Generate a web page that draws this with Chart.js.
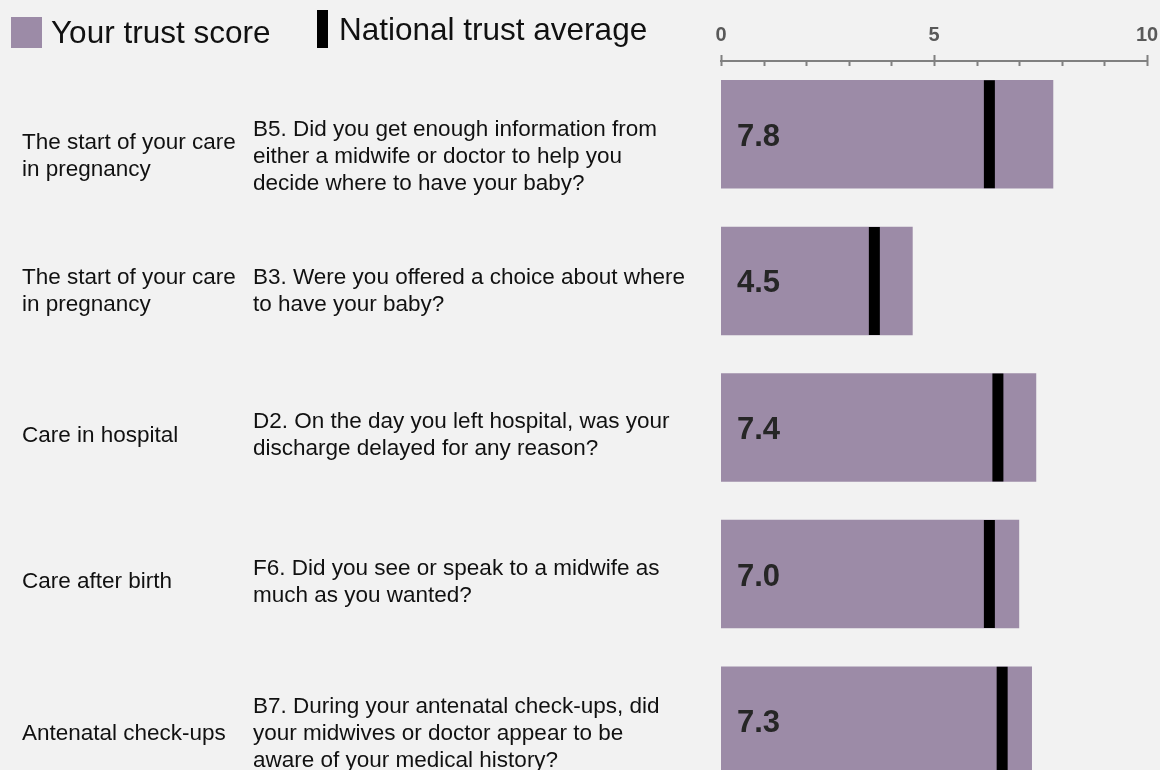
<!DOCTYPE html>
<html>
<head>
<meta charset="utf-8">
<script src="https://cdn.jsdelivr.net/npm/chart.js@4"></script>
<style>
    html, body { margin: 0; padding: 0; background: #f2f2f2; overflow: hidden; }
    #wrap { position: relative; width: 1160px; height: 794px; }
</style>
</head>
<body>
<div id="wrap"><canvas id="chart"></canvas></div>
<script>
// data
const sections = [
    ['The start of your care', 'in pregnancy'],
    ['The start of your care', 'in pregnancy'],
    ['Care in hospital'],
    ['Care after birth'],
    ['Antenatal check-ups']
];
const questions = [
    ['B5. Did you get enough information from', 'either a midwife or doctor to help you', 'decide where to have your baby?'],
    ['B3. Were you offered a choice about where', 'to have your baby?'],
    ['D2. On the day you left hospital, was your', 'discharge delayed for any reason?'],
    ['F6. Did you see or speak to a midwife as', 'much as you wanted?'],
    ['B7. During your antenatal check-ups, did', 'your midwives or doctor appear to be', 'aware of your medical history?']
];
const trustScores = [7.8, 4.5, 7.4, 7.0, 7.3];
const nationalAverage = [6.3, 3.6, 6.5, 6.3, 6.6];
const axisLabels = [0, 5, 10];

const barColor = '#9c8ba7';
const FONT = '"Liberation Sans", Arial, sans-serif';
// vertical shift of the text block against the bar centre, per row
const textShift = [22, 10, 8, 8, 13];

const decorPlugin = {
    id: 'decor',
    afterDatasetsDraw(chart) {
        const ctx = chart.ctx;
        const x = chart.scales.x;
        const y = chart.scales.y;
        ctx.save();

        // tick marks under the axis line
        const axisY = chart.chartArea.top;
        ctx.strokeStyle = '#808080';
        ctx.lineWidth = 2;
        for (let v = 0; v <= 10; v++) {
            const px = Math.round(x.getPixelForValue(v)) + 0.5;
            const major = axisLabels.includes(v);
            ctx.beginPath();
            ctx.moveTo(px, major ? axisY - 6 : axisY);
            ctx.lineTo(px, axisY + 5);
            ctx.stroke();
        }

        // value labels inside bars
        const bars = chart.getDatasetMeta(0).data;
        ctx.fillStyle = '#262626';
        ctx.font = 'bold 31px ' + FONT;
        ctx.textAlign = 'left';
        ctx.textBaseline = 'alphabetic';
        bars.forEach((bar, i) => {
            ctx.fillText(trustScores[i].toFixed(1), bar.base + 16, bar.y + 11.5);
        });

        // row texts
        ctx.fillStyle = '#111111';
        ctx.font = '22.5px ' + FONT;
        ctx.textBaseline = 'middle';
        const lh = 27;
        sections.forEach((sec, i) => {
            const cy = y.getPixelForValue(i) + textShift[i];
            const q = questions[i];
            const qTop = cy - (q.length - 1) * lh / 2;
            q.forEach((line, k) => ctx.fillText(line, 253, qTop + k * lh));
            const sTop = cy - (sec.length - 1) * lh / 2;
            sec.forEach((line, k) => ctx.fillText(line, 22, sTop + k * lh));
        });

        // legend
        ctx.fillStyle = barColor;
        ctx.fillRect(11, 17, 31, 31);
        ctx.fillStyle = '#000000';
        ctx.fillRect(317, 10, 11, 38);
        ctx.fillStyle = '#111111';
        ctx.font = '31.5px ' + FONT;
        ctx.textBaseline = 'alphabetic';
        ctx.fillText('Your trust score', 51, 43);
        ctx.fillText('National trust average', 339, 39.5);

        ctx.restore();
    }
};

new Chart(document.getElementById('chart'), {
    type: 'bar',
    data: {
        labels: sections.map(s => s.join(' ')),
        datasets: [
            {
                label: 'Your trust score',
                data: trustScores,
                backgroundColor: barColor,
                barPercentage: 0.74,
                categoryPercentage: 1,
                order: 2
            },
            {
                type: 'line',
                label: 'National trust average',
                indexAxis: 'y',
                data: nationalAverage,
                showLine: false,
                pointStyle: 'line',
                pointRotation: 90,
                pointRadius: 54,
                pointHoverRadius: 54,
                pointBorderWidth: 11,
                pointHoverBorderWidth: 11,
                pointBorderColor: '#000000',
                pointBackgroundColor: '#000000',
                order: 1
            }
        ]
    },
    options: {
        indexAxis: 'y',
        responsive: true,
        maintainAspectRatio: false,
        animation: false,
        events: [],
        layout: {
            autoPadding: false,
            padding: { left: 721, right: 13, top: 0, bottom: 0 }
        },
        plugins: {
            legend: { display: false },
            tooltip: { enabled: false }
        },
        scales: {
            x: {
                position: 'top',
                min: 0,
                max: 10,
                afterFit: (scale) => {
                    scale.height = 61;
                    scale.paddingRight = 12;
                },
                ticks: {
                    stepSize: 1,
                    autoSkip: false,
                    maxRotation: 0,
                    padding: 14,
                    color: '#595959',
                    font: { family: FONT, size: 20, weight: 'bold' },
                    callback: (v) => axisLabels.includes(v) ? String(v) : ''
                },
                grid: { display: false, drawTicks: false },
                border: { display: true, color: '#808080', width: 2 }
            },
            y: {
                display: false,
                grid: { display: false }
            }
        }
    },
    plugins: [decorPlugin]
});
</script>
</body>
</html>
